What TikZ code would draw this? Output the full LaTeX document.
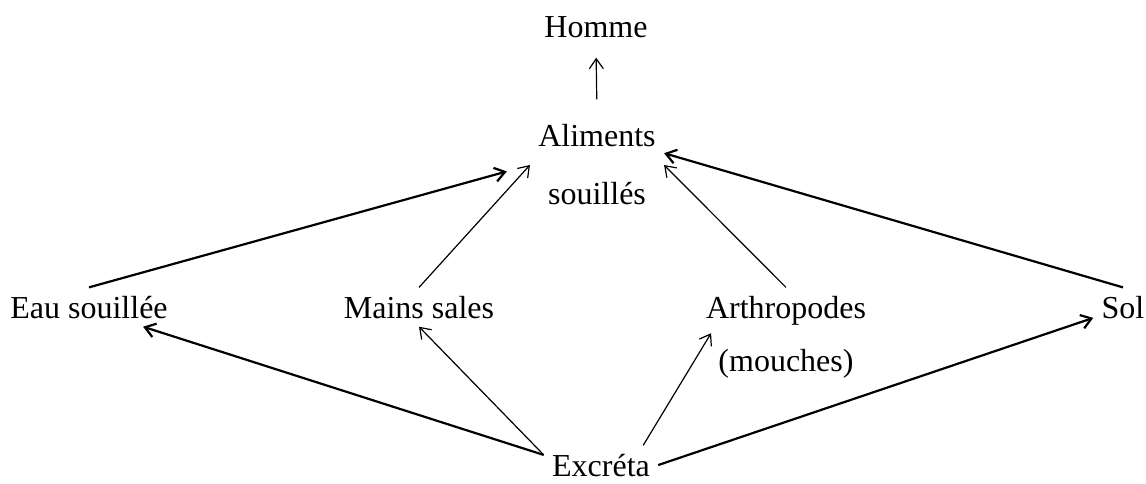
\documentclass[tikz,border=0pt]{standalone}
\usepackage{fontspec}
\setmainfont{Liberation Serif}
\usetikzlibrary{arrows.meta}
\begin{document}
\begin{tikzpicture}[x=0.5pt,y=-0.5pt,
    every node/.style={anchor=base,inner sep=4pt,font=\fontsize{16}{29}\selectfont},
    fleche/.style={-{Straight Barb[length=5pt,width=7pt]},line width=0.6pt},
    grosse/.style={fleche,line width=1.1pt}]
  \useasboundingbox (0,0) rectangle (1146,483);
  \draw
    (596,37) node (homme){Homme}
    (597,165) node[anchor=center,align=center] (aliments){Aliments\\souillés}
    (89,318) node (eau){Eau souillée}
    (419,318) node (mains){Mains sales}
    (786,318) node (arthro){Arthropodes}
    (786,371) node (mouches){(mouches)}
    (1123,318) node (sol){Sol}
    (601,476) node (excreta){Excréta};
  \begin{scope}[fleche]
    \draw[shorten <=8.5pt,shorten >=6pt] (aliments.north) to (homme.south);
    \draw[grosse,shorten >=12pt] (eau.north) to (aliments.west);
    \draw (mains.north) to (aliments.west);
    \draw (arthro.north) to (aliments.east);
    \draw[grosse] (sol.north) to (aliments.10);
    \draw[grosse] (excreta.170) to (eau.-20);
    \draw (excreta.170) to (mains.south);
    \draw (excreta.25) to (arthro.197);
    \draw[grosse] (excreta.east) to (sol.200);
  \end{scope}
\end{tikzpicture}
\end{document}
